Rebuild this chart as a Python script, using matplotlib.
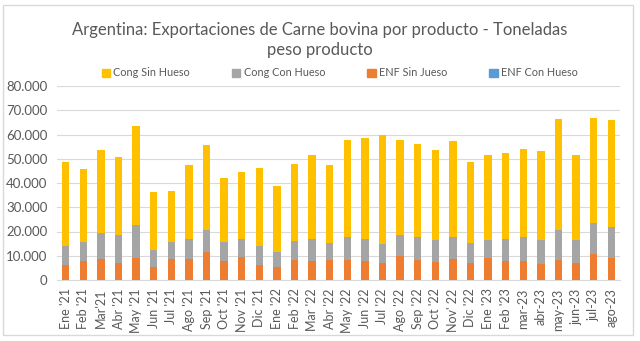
import numpy as np
import matplotlib
matplotlib.use("Agg")
import matplotlib.pyplot as plt
from matplotlib.ticker import FuncFormatter, MultipleLocator
from matplotlib.patches import Patch, Rectangle

# ==================== DATA (toneladas peso producto) ====================
months = ["Ene '21", "Feb '21", "Mar'21", "Abr '21", "May '21", "Jun '21", "Jul '21",
          "Ago '21", "Sep '21", "Oct '21", "Nov '21", "Dic '21", "Ene '22", "Feb '22",
          "Mar '22", "Abr '22", "May '22", "Jun '22", "Jul '22", "Ago '22", "Sep '22",
          "Oct '22", "Nov' 22", "Dic '22", "Ene '23", "Feb '23", "mar-23", "abr-23",
          "may-23", "jun-23", "jul-23", "ago-23"]

enf_sin_hueso = [6200, 7800, 8500, 6900, 8900, 5500, 8500, 8700, 11400, 7700, 9600, 6000,
                 5200, 8100, 7800, 8100, 8400, 7700, 6900, 9900, 8200, 7600, 8700, 7100,
                 8900, 7800, 8000, 6600, 8200, 7000, 10600, 9100]
enf_con_hueso = [0] * 32
cong_con_hueso = [7800, 8000, 11000, 11500, 13900, 7000, 7200, 8300, 9200, 8100, 7300, 8200,
                  6500, 7800, 9100, 7000, 9200, 9200, 7900, 8800, 9400, 8800, 8900, 8200,
                  7600, 9200, 9700, 9900, 12400, 9500, 12800, 12800]
cong_sin_hueso = [34800, 30000, 34000, 32200, 40700, 23800, 21100, 30400, 35100, 26400, 27800,
                  32100, 26900, 31900, 34600, 32300, 40000, 41800, 45000, 38900, 38400, 37300,
                  39700, 33500, 34900, 35400, 36500, 36700, 45900, 35000, 43400, 44100]

# ==================== STYLE ====================
C_CONG_SIN = "#FFC000"
C_CONG_CON = "#A5A5A5"
C_ENF_SIN = "#ED7D31"
C_ENF_CON = "#5B9BD5"
TXT = "#595959"
GRID = "#D9D9D9"
BAR_W = 0.42

plt.rcParams["font.family"] = ["Lato", "DejaVu Sans"]

fig = plt.figure(figsize=(6.4, 3.41), dpi=100)
ax = fig.add_axes([57 / 640, 1 - 280 / 341, 563 / 640, 194 / 341])

x = np.arange(len(months))
b0 = np.zeros(len(months))
ax.bar(x, enf_sin_hueso, width=BAR_W, color=C_ENF_SIN, bottom=b0, zorder=3)
b0 = b0 + np.array(enf_sin_hueso)
ax.bar(x, enf_con_hueso, width=BAR_W, color=C_ENF_CON, bottom=b0, zorder=3)
b0 = b0 + np.array(enf_con_hueso)
ax.bar(x, cong_con_hueso, width=BAR_W, color=C_CONG_CON, bottom=b0, zorder=3)
b0 = b0 + np.array(cong_con_hueso)
ax.bar(x, cong_sin_hueso, width=BAR_W, color=C_CONG_SIN, bottom=b0, zorder=3)

ax.set_xlim(-0.5, len(months) - 0.5)
ax.set_ylim(0, 80000)
ax.yaxis.set_major_locator(MultipleLocator(10000))
ax.yaxis.set_major_formatter(FuncFormatter(lambda v, p: f"{v:,.0f}".replace(",", ".")))
ax.grid(axis="y", color=GRID, linewidth=0.8, zorder=0)
ax.set_axisbelow(True)
for s in ["top", "right", "left"]:
    ax.spines[s].set_visible(False)
ax.spines["bottom"].set_color(GRID)
ax.spines["bottom"].set_linewidth(0.8)

ax.set_xticks(x)
ax.set_xticklabels(months, rotation=90, fontsize=9, color=TXT)
ax.tick_params(axis="both", length=0, colors=TXT, labelsize=9.5)
ax.tick_params(axis="x", pad=6, labelsize=9)
ax.tick_params(axis="y", pad=7)

fig.text(0.5, 1 - 30 / 341, "Argentina: Exportaciones de Carne bovina por producto - Toneladas",
         ha="center", va="center", fontsize=12, color=TXT)
fig.text(0.5, 1 - 50 / 341, "peso producto", ha="center", va="center", fontsize=12, color=TXT)

handles = [Patch(color=C_CONG_SIN), Patch(color=C_CONG_CON), Patch(color=C_ENF_SIN), Patch(color=C_ENF_CON)]
labels = ["Cong Sin Hueso", "Cong Con Hueso", "ENF Sin Jueso", "ENF Con Hueso"]
fig.legend(handles, labels, loc="center", bbox_to_anchor=(0.531, 1 - 73 / 341), ncol=4,
           frameon=False, fontsize=7.8, labelcolor=TXT, handlelength=0.75, handleheight=0.75,
           handletextpad=0.3, columnspacing=3.9)

fig.patches.append(Rectangle((3 / 640, 1 - 335 / 341), 630 / 640, 330 / 341,
                             transform=fig.transFigure, fill=False, edgecolor=GRID, linewidth=1))

fig.savefig("out.png", dpi=100)
